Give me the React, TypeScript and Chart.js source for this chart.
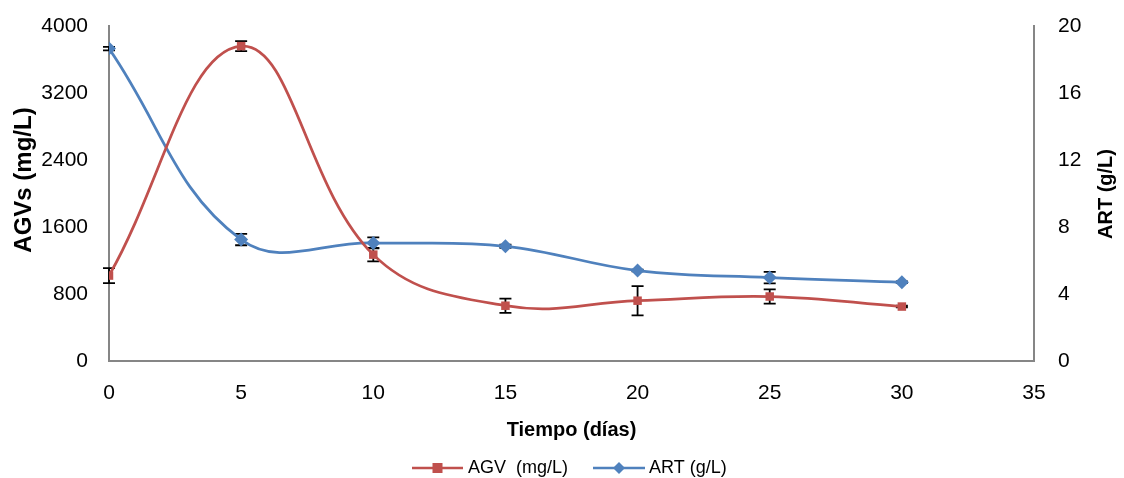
import React, { useEffect, useRef } from "react";
import { Chart, registerables } from "chart.js";

Chart.register(...registerables);

const days = [0, 5, 10, 15, 20, 25, 30];
const agv = [1020, 3760, 1270, 660, 720, 770, 650];
const agvErr = [90, 60, 80, 85, 175, 85, 10];
const art = [18.65, 7.25, 7.05, 6.85, 5.4, 4.98, 4.7];
const artErr = [0.1, 0.34, 0.33, 0.1, 0.05, 0.34, 0.05];

const xTicks = [0, 5, 10, 15, 20, 25, 30, 35];
const leftTicks = [0, 800, 1600, 2400, 3200, 4000];
const rightTicks = [0, 4, 8, 12, 16, 20];

const RED = "#C0504D";
const BLUE = "#4F81BD";
const AXIS = "#868686";
const FONT = "'Liberation Sans', Arial, sans-serif";

const errorBars = {
  id: "errorBars",
  beforeDatasetsDraw(chart: any) {
    const ctx = chart.ctx;
    const xs = chart.scales.x;
    const sets = [
      { vals: agv, errs: agvErr, scale: chart.scales.y },
      { vals: art, errs: artErr, scale: chart.scales.y1 },
    ];
    ctx.save();
    ctx.strokeStyle = "#000";
    ctx.lineWidth = 1.8;
    sets.forEach((s) => {
      s.vals.forEach((v, i) => {
        const px = xs.getPixelForValue(days[i]);
        const top = s.scale.getPixelForValue(v + s.errs[i]);
        const bot = s.scale.getPixelForValue(v - s.errs[i]);
        ctx.beginPath();
        ctx.moveTo(px, top);
        ctx.lineTo(px, bot);
        ctx.moveTo(px - 6, top);
        ctx.lineTo(px + 6, top);
        ctx.moveTo(px - 6, bot);
        ctx.lineTo(px + 6, bot);
        ctx.stroke();
      });
    });
    ctx.restore();
  },
};

const customText = {
  id: "customText",
  afterDraw(chart: any) {
    const ctx = chart.ctx;
    const a = chart.chartArea;
    ctx.save();
    ctx.fillStyle = "#000";
    ctx.textAlign = "center";
    ctx.textBaseline = "middle";
    ctx.font = `bold 20px ${FONT}`;
    ctx.fillText("Tiempo (días)", (a.left + a.right) / 2, 430);
    ctx.save();
    ctx.translate(1106, 194);
    ctx.rotate(-Math.PI / 2);
    ctx.fillText("ART (g/L)", 0, 0);
    ctx.restore();
    ctx.font = `bold 24px ${FONT}`;
    ctx.save();
    ctx.translate(24, 180);
    ctx.rotate(-Math.PI / 2);
    ctx.fillText("AGVs (mg/L)", 0, 0);
    ctx.restore();

    const ly = 468;
    ctx.font = `18px ${FONT}`;
    ctx.textAlign = "left";
    ctx.lineWidth = 2.5;
    ctx.strokeStyle = RED;
    ctx.beginPath();
    ctx.moveTo(412, ly);
    ctx.lineTo(463, ly);
    ctx.stroke();
    ctx.fillStyle = RED;
    ctx.fillRect(437.5 - 5, ly - 5, 10, 10);
    ctx.fillStyle = "#000";
    ctx.fillText("AGV  (mg/L)", 468, ly);

    ctx.strokeStyle = BLUE;
    ctx.beginPath();
    ctx.moveTo(593, ly);
    ctx.lineTo(645, ly);
    ctx.stroke();
    ctx.fillStyle = BLUE;
    ctx.beginPath();
    ctx.moveTo(619, ly - 6);
    ctx.lineTo(625, ly);
    ctx.lineTo(619, ly + 6);
    ctx.lineTo(613, ly);
    ctx.closePath();
    ctx.fill();
    ctx.fillStyle = "#000";
    ctx.fillText("ART (g/L)", 649, ly);
    ctx.restore();
  },
};

const tickFont = { size: 21, family: FONT };

export default function App() {
  const ref = useRef<HTMLCanvasElement>(null);
  useEffect(() => {
    document.body.style.margin = "0";
    const chart = new Chart(ref.current as HTMLCanvasElement, {
      type: "line",
      data: {
        datasets: [
          {
            label: "AGV  (mg/L)",
            data: days.map((d, i) => ({ x: d, y: agv[i] })),
            borderColor: RED,
            backgroundColor: RED,
            borderWidth: 2.75,
            pointStyle: "rect",
            pointRadius: 6,
            pointBorderWidth: 0,
            tension: 0.4,
            yAxisID: "y",
          },
          {
            label: "ART (g/L)",
            data: days.map((d, i) => ({ x: d, y: art[i] })),
            borderColor: BLUE,
            backgroundColor: BLUE,
            borderWidth: 2.75,
            pointStyle: "rectRot",
            pointRadius: 7,
            pointBorderWidth: 0,
            tension: 0.4,
            yAxisID: "y1",
          },
        ],
      },
      options: {
        responsive: false,
        animation: false,
        layout: { padding: { top: 26, bottom: 27, left: 0, right: 0 } },
        plugins: { legend: { display: false }, tooltip: { enabled: false } },
        scales: {
          x: {
            type: "linear",
            min: 0,
            max: 35,
            afterBuildTicks: (s: any) => {
              s.ticks = xTicks.map((v) => ({ value: v }));
            },
            afterFit: (s: any) => {
              s.height = 90;
              s.paddingLeft = 0;
              s.paddingRight = 0;
            },
            grid: { display: false, drawTicks: false },
            border: { color: AXIS, width: 2 },
            ticks: { color: "#000", font: tickFont, padding: 20, maxRotation: 0, callback: (v: any) => String(v) },
          },
          y: {
            type: "linear",
            position: "left",
            min: 0,
            max: 4000,
            afterBuildTicks: (s: any) => {
              s.ticks = leftTicks.map((v) => ({ value: v }));
            },
            afterFit: (s: any) => {
              s.width = 109;
              s.paddingTop = 0;
              s.paddingBottom = 0;
            },
            grid: { display: false, drawTicks: false },
            border: { color: AXIS, width: 2 },
            ticks: { color: "#000", font: tickFont, padding: 21, callback: (v: any) => String(v) },
          },
          y1: {
            type: "linear",
            position: "right",
            min: 0,
            max: 20,
            afterBuildTicks: (s: any) => {
              s.ticks = rightTicks.map((v) => ({ value: v }));
            },
            afterFit: (s: any) => {
              s.width = 90;
              s.paddingTop = 0;
              s.paddingBottom = 0;
            },
            grid: { display: false, drawTicks: false },
            border: { color: AXIS, width: 2 },
            ticks: { color: "#000", font: tickFont, padding: 24, callback: (v: any) => String(v) },
          },
        },
      },
      plugins: [errorBars, customText],
    } as any);
    return () => chart.destroy();
  }, []);
  return (
    <div style={{ width: 1124, height: 478 }}>
      <canvas ref={ref} width={1124} height={478} style={{ display: "block" }} />
    </div>
  );
}
